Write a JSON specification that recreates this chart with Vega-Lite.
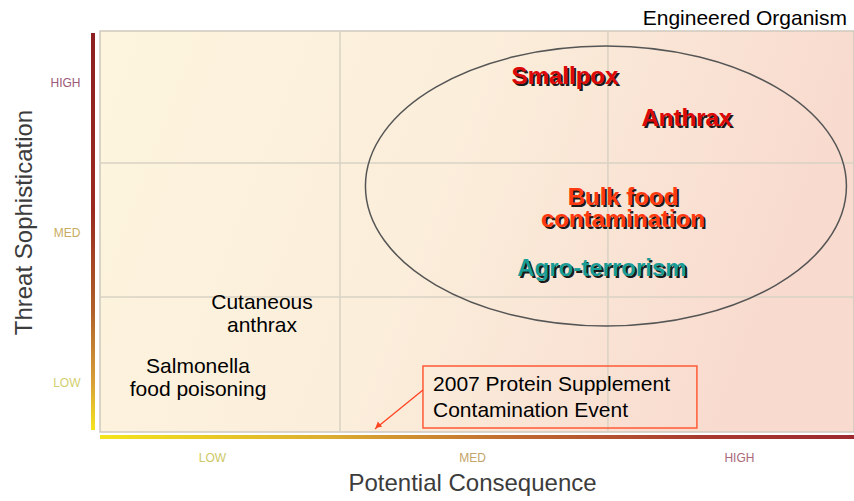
{
  "$schema": "https://vega.github.io/schema/vega-lite/v6.json",
  "autosize": {"type": "none"},
  "width": 754,
  "height": 401,
  "padding": {"left": 100, "top": 31, "right": 0, "bottom": 69},
  "background": "white",
  "config": {"view": {"stroke": null}, "font": "Liberation Sans"},
  "title": {"text": "Engineered Organism", "anchor": "end", "orient": "top", "frame": "group", "fontSize": 21, "fontWeight": "normal", "font": "Liberation Sans", "color": "#000000", "offset": 1, "dx": -7},
  "datasets": {
    "bg": [{"x": 0, "x2": 3, "y": 0, "y2": 3}],
    "vgrid": [{"x": 0.955}, {"x": 2.021}],
    "hgrid": [{"y": 2.012}, {"y": 1.01}],
    "yline": [{"x": -0.0358, "x2": -0.0199, "y": 0.015, "y2": 2.985}],
    "xline": [{"x": 0, "x2": 3, "y": -0.0224, "y2": -0.0523}],
    "ellipse": [{"x": 2.013, "y": 1.84}],
    "box": [{"x": 1.285, "x2": 2.375, "y": 0.03, "y2": 0.494}],
    "arrow": [{"x": 1.285, "y": 0.314, "x2": 1.094, "y2": 0.0225}],
    "arrowhead": [{"x": 1.108, "y": 0.05}],
    "bold": [
      {"label": "Smallpox", "x": 1.85, "y": 2.656, "kind": "agent"},
      {"label": "Anthrax", "x": 2.335, "y": 2.342, "kind": "agent"},
      {"label": "Bulk food\ncontamination", "x": 2.081, "y": 1.751, "kind": "food"},
      {"label": "Agro-terrorism", "x": 1.997, "y": 1.219, "kind": "agro"}
    ],
    "plain": [
      {"label": "Cutaneous\nanthrax", "x": 0.6446, "y": 0.965},
      {"label": "Salmonella\nfood poisoning", "x": 0.39, "y": 0.486}
    ],
    "callout": [{"label": "2007 Protein Supplement\nContamination Event", "x": 1.325, "y": 0.352}]
  },
  "layer": [
    {
      "data": {"name": "bg"},
      "mark": {"type": "rect", "stroke": "#cfc9bd", "strokeWidth": 1.5,
        "color": {"gradient": "linear", "x1": 0, "y1": 0, "x2": 1, "y2": 0.2,
          "stops": [{"offset": 0, "color": "#fdf5de"}, {"offset": 0.5, "color": "#fbeedb"}, {"offset": 1, "color": "#f8dace"}]}},
      "encoding": {
        "x": {"field": "x", "type": "quantitative", "scale": {"domain": [0, 3], "nice": false, "zero": false},
          "axis": {"title": "Potential Consequence", "titleX": 372, "values": [0.4456, 1.48, 2.542],
            "labelExpr": "datum.value < 1 ? 'LOW' : datum.value < 2 ? 'MED' : 'HIGH'",
            "grid": false, "domain": false, "ticks": false, "labelPadding": 20, "labelBaseline": "top",
            "labelFont": "Liberation Sans", "labelFontSize": 12,
            "labelColor": {"condition": [{"test": "datum.value < 1", "value": "#cdc865"}, {"test": "datum.value > 2", "value": "#a86878"}], "value": "#c4a468"},
            "titleFont": "Liberation Sans", "titleFontSize": 24, "titleFontWeight": "normal", "titleColor": "#3c3c3c", "titlePadding": 8}},
        "x2": {"field": "x2"},
        "y": {"field": "y", "type": "quantitative", "scale": {"domain": [0, 3], "nice": false, "zero": false},
          "axis": {"title": "Threat Sophistication", "titleY": 191, "values": [0.374, 1.496, 2.611],
            "labelExpr": "datum.value < 1 ? 'LOW' : datum.value < 2 ? 'MED' : 'HIGH'",
            "grid": false, "domain": false, "ticks": false, "labelPadding": 20,
            "labelFont": "Liberation Sans", "labelFontSize": 12,
            "labelColor": {"condition": [{"test": "datum.value < 1", "value": "#d2cf6e"}, {"test": "datum.value > 2", "value": "#9c5878"}], "value": "#c8ac62"},
            "titleFont": "Liberation Sans", "titleFontSize": 24, "titleFontWeight": "normal", "titleColor": "#3c3c3c", "titlePadding": 14}},
        "y2": {"field": "y2"}
      }
    },
    {
      "data": {"name": "vgrid"},
      "mark": {"type": "rule", "color": "#d9d2c3", "strokeWidth": 1.5},
      "encoding": {"x": {"field": "x", "type": "quantitative"}}
    },
    {
      "data": {"name": "hgrid"},
      "mark": {"type": "rule", "color": "#d9d2c3", "strokeWidth": 1.5},
      "encoding": {"y": {"field": "y", "type": "quantitative"}}
    },
    {
      "data": {"name": "yline"},
      "mark": {"type": "rect",
        "color": {"gradient": "linear", "x1": 0, "y1": 0, "x2": 0, "y2": 1,
          "stops": [{"offset": 0, "color": "#8e1f22"}, {"offset": 0.45, "color": "#9a2a20"}, {"offset": 0.7, "color": "#b0602a"}, {"offset": 0.88, "color": "#d8a038"}, {"offset": 1, "color": "#f6e41e"}]}},
      "encoding": {"x": {"field": "x", "type": "quantitative"}, "x2": {"field": "x2"}, "y": {"field": "y", "type": "quantitative"}, "y2": {"field": "y2"}}
    },
    {
      "data": {"name": "xline"},
      "mark": {"type": "rect",
        "color": {"gradient": "linear", "x1": 0, "y1": 0, "x2": 1, "y2": 0,
          "stops": [{"offset": 0, "color": "#f4e41c"}, {"offset": 0.3, "color": "#dcae30"}, {"offset": 0.55, "color": "#c06a30"}, {"offset": 0.8, "color": "#a83a30"}, {"offset": 1, "color": "#9c2a30"}]}},
      "encoding": {"x": {"field": "x", "type": "quantitative"}, "x2": {"field": "x2"}, "y": {"field": "y", "type": "quantitative"}, "y2": {"field": "y2"}}
    },
    {
      "data": {"name": "ellipse"},
      "mark": {"type": "point", "shape": "M -1 0 A 1 0.582 0 1 1 1 0 A 1 0.582 0 1 1 -1 0 Z", "size": 231361, "filled": false, "stroke": "#555555", "strokeWidth": 1.5, "opacity": 1},
      "encoding": {"x": {"field": "x", "type": "quantitative"}, "y": {"field": "y", "type": "quantitative"}}
    },
    {
      "data": {"name": "box"},
      "mark": {"type": "rect", "fill": null, "fillOpacity": 0, "stroke": "#ff5a36", "strokeWidth": 1.5},
      "encoding": {"x": {"field": "x", "type": "quantitative"}, "x2": {"field": "x2"}, "y": {"field": "y", "type": "quantitative"}, "y2": {"field": "y2"}}
    },
    {
      "data": {"name": "arrow"},
      "mark": {"type": "rule", "color": "#ff4422", "strokeWidth": 1.3},
      "encoding": {"x": {"field": "x", "type": "quantitative"}, "y": {"field": "y", "type": "quantitative"}, "x2": {"field": "x2"}, "y2": {"field": "y2"}}
    },
    {
      "data": {"name": "arrowhead"},
      "mark": {"type": "point", "shape": "triangle", "filled": true, "color": "#ff4422", "size": 45, "angle": 231, "opacity": 1},
      "encoding": {"x": {"field": "x", "type": "quantitative"}, "y": {"field": "y", "type": "quantitative"}}
    },
    {
      "data": {"name": "bold"},
      "mark": {"type": "text", "font": "Liberation Sans", "fontWeight": "bold", "fontSize": 24, "lineBreak": "\n", "lineHeight": 22, "dx": 2, "dy": 2, "color": "#1a1a1a", "align": "center", "baseline": "middle"},
      "encoding": {"x": {"field": "x", "type": "quantitative"}, "y": {"field": "y", "type": "quantitative"}, "text": {"field": "label"}}
    },
    {
      "data": {"name": "bold"},
      "mark": {"type": "text", "font": "Liberation Sans", "fontWeight": "bold", "fontSize": 24, "lineBreak": "\n", "lineHeight": 22, "align": "center", "baseline": "middle"},
      "encoding": {"x": {"field": "x", "type": "quantitative"}, "y": {"field": "y", "type": "quantitative"}, "text": {"field": "label"},
        "color": {"field": "kind", "type": "nominal", "legend": null, "scale": {"domain": ["agent", "food", "agro"], "range": ["#dd0808", "#ff3a10", "#1a9c96"]}}}
    },
    {
      "data": {"name": "plain"},
      "mark": {"type": "text", "font": "Liberation Sans", "fontSize": 21, "lineBreak": "\n", "lineHeight": 23, "color": "#000000", "align": "center", "baseline": "middle"},
      "encoding": {"x": {"field": "x", "type": "quantitative"}, "y": {"field": "y", "type": "quantitative"}, "text": {"field": "label"}}
    },
    {
      "data": {"name": "callout"},
      "mark": {"type": "text", "font": "Liberation Sans", "fontSize": 21, "lineBreak": "\n", "lineHeight": 26, "color": "#000000", "align": "left", "baseline": "middle"},
      "encoding": {"x": {"field": "x", "type": "quantitative"}, "y": {"field": "y", "type": "quantitative"}, "text": {"field": "label"}}
    }
  ]
}
